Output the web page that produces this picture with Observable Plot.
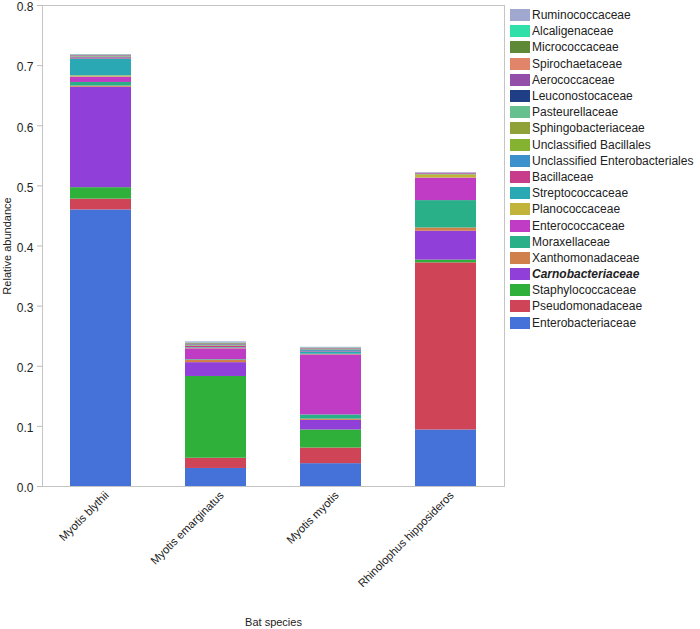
<!DOCTYPE html>
<html><head><meta charset="utf-8">
<script src="https://cdn.jsdelivr.net/npm/d3@7"></script>
<script src="https://cdn.jsdelivr.net/npm/@observablehq/plot@0.6"></script>
<style>
body{margin:0;background:#fff;font-family:"Liberation Sans",Arial,Helvetica,sans-serif;}
#wrap{position:relative;width:700px;height:629px;}
#legend{position:absolute;left:510px;top:7px;}
.row{display:flex;align-items:center;height:16.2px;font-size:12px;color:#222;white-space:nowrap;}
.sw{width:20px;height:12px;margin-right:2px;flex:none;}
</style></head><body><div id="wrap"><div id="chart"></div><div id="legend"></div></div>
<script>
const species = ["Myotis blythii", "Myotis emarginatus", "Myotis myotis", "Rhinolophus hipposideros"];
// stacking order, bottom to top
const families = ["Enterobacteriaceae", "Pseudomonadaceae", "Staphylococcaceae", "Carnobacteriaceae",
  "Xanthomonadaceae", "Moraxellaceae", "Enterococcaceae", "Planococcaceae", "Streptococcaceae",
  "Bacillaceae", "Unclassified Enterobacteriales", "Unclassified Bacillales", "Sphingobacteriaceae",
  "Pasteurellaceae", "Leuconostocaceae", "Aerococcaceae", "Spirochaetaceae", "Micrococcaceae",
  "Alcaligenaceae", "Ruminococcaceae"];
const colors = ["#4472d8", "#d04458", "#2eb03a", "#9040d8",
  "#d0804a", "#2ab088", "#c03cc4", "#c2b43a", "#2aa8b4",
  "#c83c8c", "#3c90cc", "#86b232", "#8fa23a",
  "#66c090", "#1e3f86", "#9450a8", "#e0846a", "#5e8a38",
  "#30e0a8", "#a0a8d0"];
const emphasized = ["Carnobacteriaceae"];
// relative abundance per family (same order as families)
const myotisBlythii = [0.460, 0.018, 0.019, 0.167, 0.002, 0.006, 0.009, 0.002, 0.028,
  0.002, 0.0005, 0.0005, 0.0005, 0.0005, 0.0005, 0.001, 0.0005, 0.0005, 0.0005, 0.0005];
const myotisEmarginatus = [0.030, 0.017, 0.136, 0.023, 0.004, 0.001, 0.018, 0.001, 0.001,
  0.002, 0.0005, 0.0005, 0.0005, 0.0005, 0.0005, 0.001, 0.0005, 0.001, 0.0005, 0.002];
const myotisMyotis = [0.038, 0.026, 0.030, 0.016, 0.002, 0.007, 0.100, 0.001, 0.003,
  0.001, 0.002, 0.0005, 0.0005, 0.0005, 0.0005, 0.001, 0.0005, 0.0005, 0.0005, 0.001];
const rhinolophusHipposideros = [0.094, 0.278, 0.0045, 0.048, 0.0055, 0.0455, 0.0375, 0.0055, 0.0005,
  0.001, 0, 0, 0, 0, 0, 0.001, 0, 0, 0, 0.001];
const seriesBySpecies = [myotisBlythii, myotisEmarginatus, myotisMyotis, rhinolophusHipposideros];
const yTicks = [0, 0.1, 0.2, 0.3, 0.4, 0.5, 0.6, 0.7, 0.8];

const data = [];
species.forEach((s, i) => families.forEach((f, j) => data.push({species: s, family: f, value: seriesBySpecies[i][j]})));

const chart = Plot.plot({
  width: 700, height: 629,
  marginLeft: 42, marginRight: 196, marginTop: 5, marginBottom: 143,
  style: {fontFamily: "Liberation Sans, Arial, Helvetica, sans-serif", background: "#fff"},
  x: {domain: species, paddingInner: 0.4727, paddingOuter: 0.2334},
  y: {domain: [0, 0.8]},
  color: {domain: families, range: colors},
  marks: [
    Plot.barY(data, {x: "species", y: "value", fill: "family", order: families}),
    Plot.frame({stroke: "#c4c4c4"}),
    Plot.axisY({ticks: yTicks, tickFormat: d => d.toFixed(1), tickSize: 5, stroke: "#bbb", color: "#222",
      fontSize: 12, label: null}),
    Plot.axisY({ticks: [], tickSize: 0, color: "#222",
      label: "Relative abundance", labelAnchor: "center", labelArrow: "none", labelOffset: 39}),
    Plot.axisX({tickRotate: -45, tickSize: 0, tickPadding: 7, dx: 6, color: "#222", fontSize: 11.3,
      label: null}),
    Plot.axisX({ticks: [], tickSize: 0, color: "#222",
      label: "Bat species", labelAnchor: "center", labelArrow: "none", labelOffset: 139})
  ]
});
chart.querySelectorAll("g[aria-label='y-axis label'] text, g[aria-label='x-axis label'] text").forEach(t => t.setAttribute("font-size", 11));
// nudge y tick labels down slightly so the top label is not clipped
chart.querySelectorAll("g[aria-label='y-axis tick label']").forEach(g => g.setAttribute("transform", (g.getAttribute("transform") || "") + " translate(0,2)"));
document.getElementById("chart").appendChild(chart);

const legend = document.getElementById("legend");
families.slice().reverse().forEach(f => {
  const row = document.createElement("div");
  row.className = "row";
  const sw = document.createElement("div");
  sw.className = "sw";
  sw.style.background = colors[families.indexOf(f)];
  const lab = document.createElement("span");
  lab.textContent = f;
  if (emphasized.includes(f)) { lab.style.fontWeight = "bold"; lab.style.fontStyle = "italic"; }
  row.appendChild(sw); row.appendChild(lab);
  legend.appendChild(row);
});
</script></body></html>
